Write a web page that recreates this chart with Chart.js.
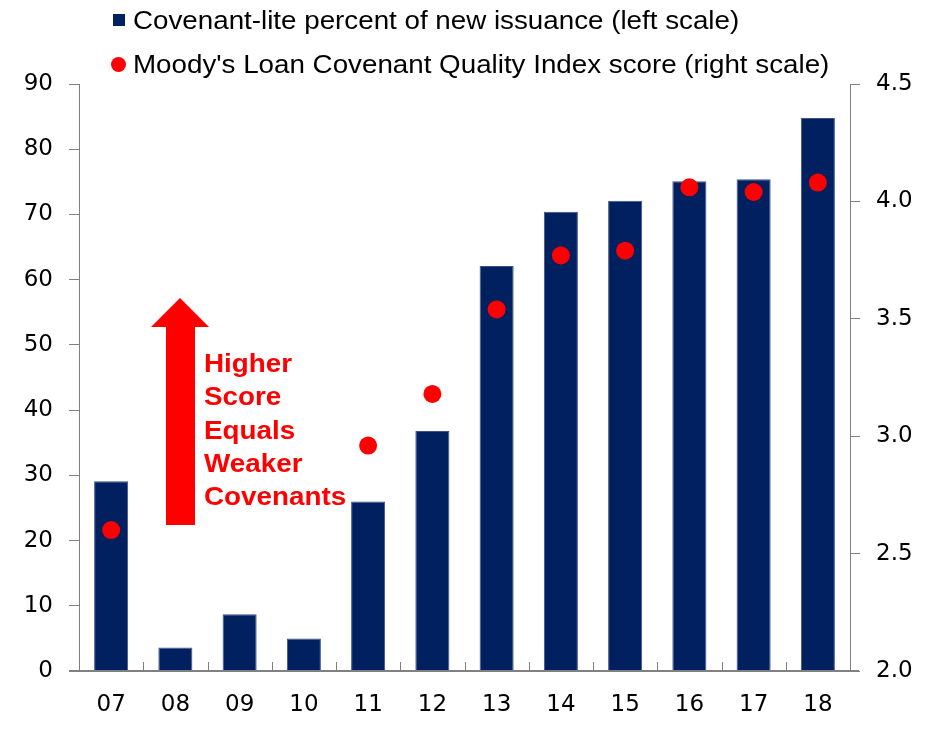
<!DOCTYPE html>
<html>
<head>
<meta charset="utf-8">
<script src="https://cdn.jsdelivr.net/npm/chart.js@4"></script>
<style>
  body { margin: 0; background: #fff; }
  #wrap { position: relative; width: 938px; height: 744px; font-family: "Liberation Sans", Arial, sans-serif; }
  #chart { position: absolute; left: 0; top: 0; }
  .leg { position: absolute; left: 133px; font-size: 25px; line-height: 30px; color: #000; white-space: nowrap; transform: scaleX(1.11); transform-origin: left top; }
  .mk { position: absolute; }
  #note { position: absolute; left: 204px; top: 347px; color: #ff0000; font-weight: bold; font-size: 26.5px; line-height: 33.3px; transform: scaleX(1.05); transform-origin: left top; }
  #arrow { position: absolute; left: 0; top: 0; }
</style>
</head>
<body>
<div id="wrap">
  <canvas id="chart" width="938" height="744"></canvas>
  <div class="mk" style="left:113px;top:14px;width:12px;height:12px;background:#002060"></div>
  <div class="leg" id="leg1" style="top:5px">Covenant-lite percent of new issuance (left scale)</div>
  <div class="mk" style="left:111px;top:57px;width:15px;height:15px;border-radius:50%;background:#ff0000"></div>
  <div class="leg" id="leg2" style="top:49px">Moody's Loan Covenant Quality Index score (right scale)</div>
  <svg id="arrow" width="938" height="744"><polygon points="166,525 195,525 195,327 209,327 180,298 151,327 166,327" fill="#ff0000"/></svg>
  <div id="note">Higher<br>Score<br>Equals<br>Weaker<br>Covenants</div>
</div>
<script>
/* global Chart */

const years = ['07', '08', '09', '10', '11', '12', '13', '14', '15', '16', '17', '18'];
const covLitePct = [29.1, 3.6, 8.7, 5.0, 26.0, 36.8, 62.1, 70.4, 72.1, 75.1, 75.4, 84.8];
const lcqiScore = [2.60, null, null, null, 2.96, 3.18, 3.54, 3.77, 3.79, 4.06, 4.04, 4.08];
const leftTicks = [0, 90, 10];
const rightTicks = [2.0, 4.5, 0.5];

const NAVY = '#002060';
const RED = '#ff0000';
const AXIS = '#808080';
const tickFont = { family: '"DejaVu Sans", sans-serif', size: 23 };

// baseline + small upward ticks between categories
const axisDeco = {
  id: 'axisDeco',
  afterDatasetsDraw(chart) {
    const { ctx, chartArea: a } = chart;
    const x = chart.scales.x;
    ctx.save();
    ctx.strokeStyle = AXIS;
    ctx.lineWidth = 1;
    ctx.beginPath();
    for (let i = 1; i < years.length; i++) {
      const px = Math.round((x.getPixelForValue(i - 1) + x.getPixelForValue(i)) / 2) + 0.5;
      ctx.moveTo(px, a.bottom);
      ctx.lineTo(px, a.bottom - 9);
    }
    ctx.stroke();
    ctx.lineWidth = 2;
    ctx.beginPath();
    ctx.moveTo(a.left - 10, a.bottom);
    ctx.lineTo(a.right + 9, a.bottom);
    ctx.stroke();
    ctx.restore();
  }
};

new Chart(document.getElementById('chart').getContext('2d'), {
  data: {
    labels: years,
    datasets: [
      {
        type: 'line',
        data: lcqiScore,
        yAxisID: 'y1',
        showLine: false,
        pointRadius: 9,
        pointBackgroundColor: RED,
        pointBorderWidth: 0,
        order: 0
      },
      {
        type: 'bar',
        data: covLitePct,
        yAxisID: 'y',
        backgroundColor: NAVY,
        borderColor: '#3d5286',
        borderWidth: 1,
        categoryPercentage: 1,
        barPercentage: 0.53,
        order: 1
      }
    ]
  },
  options: {
    responsive: false,
    animation: false,
    layout: { padding: { top: 84, left: 0, right: 0, bottom: 0 } },
    plugins: { legend: { display: false }, tooltip: { enabled: false } },
    scales: {
      x: {
        grid: { display: false },
        border: { display: false },
        ticks: { color: '#000', font: tickFont, padding: 12, maxRotation: 0 },
        afterFit: (s) => { s.height = 73; }
      },
      y: {
        position: 'left',
        min: leftTicks[0],
        max: leftTicks[1],
        grid: { drawOnChartArea: false, color: AXIS, tickLength: 10 },
        border: { color: AXIS, width: 1 },
        ticks: { stepSize: leftTicks[2], color: '#000', font: tickFont, padding: 16 },
        afterFit: (s) => { s.width = 79; }
      },
      y1: {
        position: 'right',
        min: rightTicks[0],
        max: rightTicks[1],
        grid: { drawOnChartArea: false, color: AXIS, tickLength: 10 },
        border: { color: AXIS, width: 1 },
        ticks: { stepSize: rightTicks[2], color: '#000', font: tickFont, padding: 16, callback: (v) => Number(v).toFixed(1) },
        afterFit: (s) => { s.width = 88; }
      }
    }
  },
  plugins: [axisDeco]
});
</script>
</body>
</html>
